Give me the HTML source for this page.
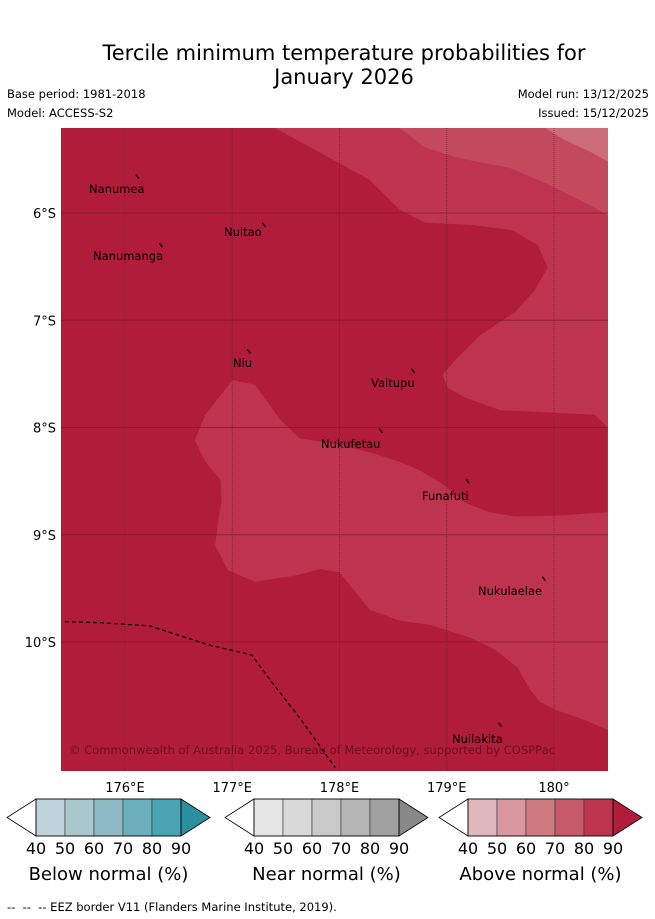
<!DOCTYPE html>
<html><head><meta charset="utf-8"><style>
body{margin:0;background:#fff;width:655px;height:919px;overflow:hidden;font-family:"DejaVu Sans","Liberation Sans",sans-serif;}
.t{position:absolute;color:#000;white-space:nowrap}
</style></head><body>
<div class="t" style="left:0;width:688px;text-align:center;top:41px;font-size:21px;line-height:24px">Tercile minimum temperature probabilities for<br>January 2026</div>
<div class="t" style="left:7px;top:87px;font-size:11.5px">Base period: 1981-2018</div>
<div class="t" style="left:7px;top:106px;font-size:11.5px">Model: ACCESS-S2</div>
<div class="t" style="right:6px;top:87px;font-size:11.5px">Model run: 13/12/2025</div>
<div class="t" style="right:6px;top:106px;font-size:11.5px">Issued: 15/12/2025</div>
<svg id="map" width="655" height="919" style="position:absolute;left:0;top:0"></svg>
<div class="t" style="left:7px;top:900px;font-size:11.5px">-- &nbsp;-- &nbsp;-- EEZ border V11 (Flanders Marine Institute, 2019).</div>
<script>
const lonTicks=[176,177,178,179,180];
const lonLabels=["176°E","177°E","178°E","179°E","180°"];
const latTicks=[-6,-7,-8,-9,-10];
const latLabels=["6°S","7°S","8°S","9°S","10°S"];
const levelColors=["#b01c3a","#bd3350","#c24a5c","#cc6c78"];
const contour80=[[177.40,-5.13],[177.40,-5.21],[178.28,-5.69],[178.56,-5.97],[178.80,-6.09],[179.22,-6.11],[179.61,-6.16],[179.85,-6.30],[179.94,-6.51],[179.82,-6.72],[179.64,-6.92],[179.31,-7.14],[179.08,-7.37],[178.96,-7.51],[179.01,-7.63],[179.17,-7.72],[179.50,-7.84],[180.38,-7.88],[180.50,-8.00],[180.50,-8.79],[180.06,-8.82],[179.64,-8.83],[179.40,-8.79],[179.17,-8.70],[178.98,-8.54],[178.75,-8.40],[178.56,-8.32],[178.28,-8.23],[178.00,-8.16],[177.63,-8.10],[177.45,-7.93],[177.21,-7.60],[177.00,-7.56],[176.75,-7.88],[176.65,-8.12],[176.75,-8.32],[176.89,-8.49],[176.90,-8.68],[176.87,-8.86],[176.84,-9.10],[176.96,-9.33],[177.21,-9.44],[177.59,-9.38],[177.82,-9.32],[178.00,-9.35],[178.28,-9.70],[178.56,-9.80],[178.84,-9.84],[179.22,-9.96],[179.45,-10.07],[179.66,-10.24],[179.78,-10.45],[179.87,-10.56],[180.01,-10.63],[180.29,-10.73],[180.50,-10.82],[180.62,-10.82],[180.62,-5.13]];
const contour70=[[178.56,-5.13],[178.56,-5.21],[178.80,-5.39],[179.12,-5.49],[179.59,-5.58],[179.96,-5.74],[180.34,-5.93],[180.50,-6.02],[180.62,-6.02],[180.62,-5.13]];
const contour60=[[179.92,-5.13],[179.92,-5.21],[180.10,-5.32],[180.34,-5.43],[180.50,-5.52],[180.62,-5.52],[180.62,-5.13]];
const eez=[[175.44,-9.81],[175.77,-9.82],[176.23,-9.85],[176.51,-9.94],[176.79,-10.03],[177.18,-10.12],[177.35,-10.35],[177.63,-10.71],[177.96,-11.17]];
const islands=[["Nanumea",176.12,-5.67,89,193],["Nuitao",177.30,-6.12,224,236],["Nanumanga",176.34,-6.31,93,260],["Niu",177.16,-7.30,233,367],["Vaitupu",178.69,-7.48,371,387],["Nukufetau",178.39,-8.04,321,448],["Funafuti",179.20,-8.51,422,500],["Nukulaelae",179.91,-9.42,478,595],["Nuilakita",179.50,-10.78,452,743]];
const X0=61,X1=608,Y0=128,Y1=771;
const sx=lon=>125+(lon-176)*107.25;
const sy=lat=>213+(-6-lat)*107.25;
const NS="http://www.w3.org/2000/svg";
const svg=document.getElementById('map');
function mk(t,a,p){const e=document.createElementNS(NS,t);for(const k in a)e.setAttribute(k,a[k]);(p||svg).appendChild(e);return e;}
const defs=mk('defs',{});const cp=mk('clipPath',{id:'cl'},defs);mk('rect',{x:X0,y:Y0,width:X1-X0,height:Y1-Y0},cp);
const g=mk('g',{'clip-path':'url(#cl)'});
const bg=mk('rect',{x:X0,y:Y0,width:X1-X0,height:Y1-Y0,fill:levelColors[0]},g);


const pts=a=>a.map(p=>sx(p[0]).toFixed(1)+','+sy(p[1]).toFixed(1)).join(' ');
[[contour80,1,'contour-80'],[contour70,2,'contour-70'],[contour60,3,'contour-60']].forEach(([c,i,n])=>{
 const e=mk('polygon',{points:pts(c),fill:levelColors[i]},g);
 
 
});
lonTicks.forEach((l,i)=>{
 const e=mk('line',{x1:sx(l),x2:sx(l),y1:Y0,y2:Y1,stroke:'#7a1628','stroke-width':1,'stroke-dasharray':'1,1','stroke-opacity':0.7},g);
 
 
 const t=mk('text',{x:sx(l),y:792,'font-size':13,'text-anchor':'middle','font-family':'DejaVu Sans, sans-serif'});
 t.textContent=lonLabels[i];
 
 
});
latTicks.forEach((l,i)=>{
 const e=mk('line',{x1:X0,x2:X1,y1:sy(l),y2:sy(l),stroke:'#7a1628','stroke-width':1,'stroke-opacity':0.6},g);
 
 
 const t=mk('text',{x:56,y:sy(l)+5,'font-size':13,'text-anchor':'end','font-family':'DejaVu Sans, sans-serif'});
 t.textContent=latLabels[i];
 
 
});
const ez=mk('polyline',{points:pts(eez),fill:'none',stroke:'#000','stroke-width':1.2,'stroke-dasharray':'4,3'},g);


islands.forEach(s=>{
 const m=mk('line',{x1:sx(s[1])-2,y1:sy(s[2])-3,x2:sx(s[1])+1,y2:sy(s[2])+1,stroke:'#000','stroke-width':1.3},g);
 
 
 const t=mk('text',{x:s[3],y:s[4],'font-size':11.5,'font-family':'DejaVu Sans, sans-serif',fill:'#000'},g);
 t.textContent=s[0];
 
 
});
const cr=mk('text',{x:69,y:754,'font-size':11.5,'textLength':486,fill:'#6a1020','font-family':'DejaVu Sans, sans-serif'},g);
cr.textContent='© Commonwealth of Australia 2025, Bureau of Meteorology, supported by COSPPac';


const legendNames=["Below normal (%)","Near normal (%)","Above normal (%)"];
const legendStarts=[36,254,468];
const legendColors=[["#bfd4da","#a8c8cc","#8cb9c4","#6bafbd","#48a3b3","#2b8fa0"],["#e6e6e6","#d9d9d9","#c9c9c9","#b5b5b5","#a0a0a0","#888888"],["#e2b8bf","#d8969e","#cf7981","#c55a69","#bd354c","#b01c3a"]];
const legendTicks=["40","50","60","70","80","90"];
const T=799,B=836,M=(T+B)/2,W=29;
legendStarts.forEach((x0,k)=>{
 const lg=mk('g',{});
 
 
 mk('polygon',{points:`${x0},${T} ${x0-W},${M} ${x0},${B}`,fill:'#fff',stroke:'#000','stroke-width':0.8},lg);
 for(let i=0;i<5;i++) mk('rect',{x:x0+i*W,y:T,width:W,height:B-T,fill:legendColors[k][i],stroke:'#333','stroke-width':0.6},lg);
 const xe=x0+5*W;
 mk('polygon',{points:`${xe},${T} ${xe+W},${M} ${xe},${B}`,fill:legendColors[k][5],stroke:'#000','stroke-width':0.8},lg);
 mk('rect',{x:x0,y:T,width:5*W,height:B-T,fill:'none',stroke:'#000','stroke-width':0.8},lg);
 legendTicks.forEach((v,i)=>{const t=mk('text',{x:x0+i*W,y:854,'font-size':16,'text-anchor':'middle','font-family':'DejaVu Sans, sans-serif'},lg);t.textContent=v;});
 const t=mk('text',{x:x0+2.5*W,y:880,'font-size':18,'text-anchor':'middle','font-family':'DejaVu Sans, sans-serif'},lg);
 t.textContent=legendNames[k];
});
</script>
</body></html>
